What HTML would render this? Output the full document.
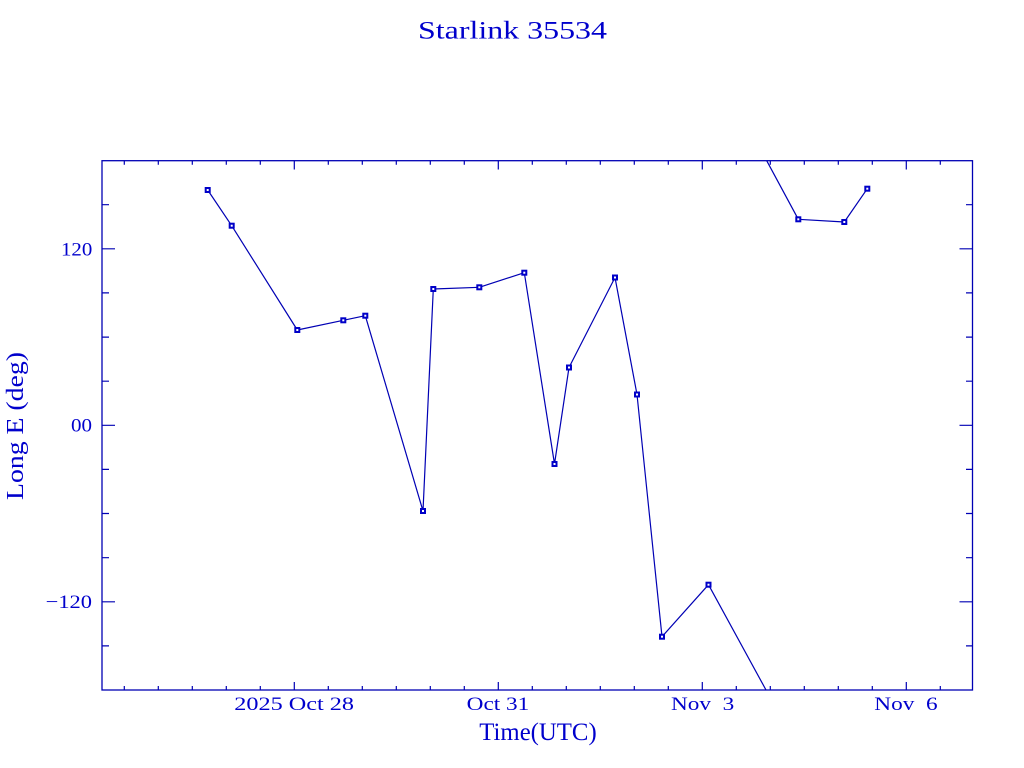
<!DOCTYPE html>
<html>
<head>
<meta charset="utf-8">
<style>
  html, body { margin: 0; padding: 0; background: #ffffff; }
  svg { display: block; }
  text { font-family: "Liberation Serif", "DejaVu Serif", serif; fill: #0000cc; white-space: pre; }
</style>
</head>
<body>
<svg width="1024" height="768" viewBox="0 0 1024 768" xmlns="http://www.w3.org/2000/svg">
  <rect x="0" y="0" width="1024" height="768" fill="#ffffff"/>

  <!-- Title -->
  <text x="418" y="38.3" font-size="25" textLength="189" lengthAdjust="spacingAndGlyphs">Starlink 35534</text>

  <!-- Frame -->
  <rect x="102" y="160.7" width="870.5" height="529.3" fill="none" stroke="#0000b4" stroke-width="1.3"/>

  <!-- X ticks (bottom & top) -->
  <g stroke="#0000b4" stroke-width="1.2">
    <path d="
      M124.3 690 V686 M158.3 690 V686 M192.3 690 V686 M226.3 690 V686 M260.3 690 V686
      M328.3 690 V686 M362.3 690 V686 M396.3 690 V686 M430.3 690 V686 M464.3 690 V686
      M532.3 690 V686 M566.3 690 V686 M600.3 690 V686 M634.3 690 V686 M668.3 690 V686
      M736.3 690 V686 M770.3 690 V686 M804.3 690 V686 M838.3 690 V686 M872.3 690 V686
      M940.3 690 V686
      M124.3 160.7 V164.7 M158.3 160.7 V164.7 M192.3 160.7 V164.7 M226.3 160.7 V164.7 M260.3 160.7 V164.7
      M328.3 160.7 V164.7 M362.3 160.7 V164.7 M396.3 160.7 V164.7 M430.3 160.7 V164.7 M464.3 160.7 V164.7
      M532.3 160.7 V164.7 M566.3 160.7 V164.7 M600.3 160.7 V164.7 M634.3 160.7 V164.7 M668.3 160.7 V164.7
      M736.3 160.7 V164.7 M770.3 160.7 V164.7 M804.3 160.7 V164.7 M838.3 160.7 V164.7 M872.3 160.7 V164.7
      M940.3 160.7 V164.7"/>
    <path d="
      M294.3 690 V682 M498.3 690 V682 M702.3 690 V682 M906.3 690 V682
      M294.3 160.7 V169.5 M498.3 160.7 V169.5 M702.3 160.7 V169.5 M906.3 160.7 V169.5"/>
  </g>

  <!-- Y ticks (left & right) -->
  <g stroke="#0000b4" stroke-width="1.2">
    <path d="
      M102 204.7 H109 M102 292.9 H109 M102 337.1 H109 M102 381.2 H109
      M102 469.4 H109 M102 513.5 H109 M102 557.7 H109 M102 645.9 H109
      M972.5 204.7 H966 M972.5 292.9 H966 M972.5 337.1 H966 M972.5 381.2 H966
      M972.5 469.4 H966 M972.5 513.5 H966 M972.5 557.7 H966 M972.5 645.9 H966"/>
    <path d="
      M102 248.8 H115 M102 425.3 H115 M102 601.8 H115
      M972.5 248.8 H959.5 M972.5 425.3 H959.5 M972.5 601.8 H959.5"/>
  </g>

  <!-- Y tick labels -->
  <text x="61" y="255.5" font-size="19" textLength="31.3" lengthAdjust="spacingAndGlyphs">120</text>
  <text x="71" y="431.6" font-size="19" textLength="21" lengthAdjust="spacingAndGlyphs">00</text>
  <text x="45.7" y="608.2" font-size="19" textLength="46.3" lengthAdjust="spacingAndGlyphs">−120</text>

  <!-- X tick labels -->
  <text x="234.3" y="710" font-size="19" textLength="119.7" lengthAdjust="spacingAndGlyphs">2025 Oct 28</text>
  <text x="466.7" y="710" font-size="19" textLength="62.6" lengthAdjust="spacingAndGlyphs">Oct 31</text>
  <text x="671" y="710" font-size="19" textLength="63.3" lengthAdjust="spacingAndGlyphs">Nov&#160; 3</text>
  <text x="874.3" y="710" font-size="19" textLength="63.4" lengthAdjust="spacingAndGlyphs">Nov&#160; 6</text>

  <!-- Axis labels -->
  <text x="479.3" y="740" font-size="25" textLength="117.4" lengthAdjust="spacingAndGlyphs">Time(UTC)</text>
  <text transform="translate(23,500) rotate(-90)" x="0" y="0" font-size="24" textLength="148" lengthAdjust="spacingAndGlyphs">Long E (deg)</text>

  <!-- Data series -->
  <g fill="none" stroke="#0000b4" stroke-width="1.2" stroke-linejoin="round">
    <polyline points="207.7,190 231.7,225.7 297.3,330 343.3,320.3 365.3,315.7 423,511 433.3,289 479.3,287.3 524.3,272.7 554.5,464 569,367.5 615,277.5 637,394.5 662,636.7 708.5,584.7 766,690"/>
    <polyline points="766.7,160.7 798.3,219.3 844.3,222 867.3,188.7"/>
  </g>

  <!-- Markers -->
  <g fill="#ffffff" stroke="#0000c8" stroke-width="2">
    <rect x="205.7" y="188" width="4" height="4"/>
    <rect x="229.7" y="223.7" width="4" height="4"/>
    <rect x="295.3" y="328" width="4" height="4"/>
    <rect x="341.3" y="318.3" width="4" height="4"/>
    <rect x="363.3" y="313.7" width="4" height="4"/>
    <rect x="421" y="509" width="4" height="4"/>
    <rect x="431.3" y="287" width="4" height="4"/>
    <rect x="477.3" y="285.3" width="4" height="4"/>
    <rect x="522.3" y="270.7" width="4" height="4"/>
    <rect x="552.5" y="462" width="4" height="4"/>
    <rect x="567" y="365.5" width="4" height="4"/>
    <rect x="613" y="275.5" width="4" height="4"/>
    <rect x="635" y="392.5" width="4" height="4"/>
    <rect x="660" y="634.7" width="4" height="4"/>
    <rect x="706.5" y="582.7" width="4" height="4"/>
    <rect x="796.3" y="217.3" width="4" height="4"/>
    <rect x="842.3" y="220" width="4" height="4"/>
    <rect x="865.3" y="186.7" width="4" height="4"/>
  </g>
</svg>
</body>
</html>
